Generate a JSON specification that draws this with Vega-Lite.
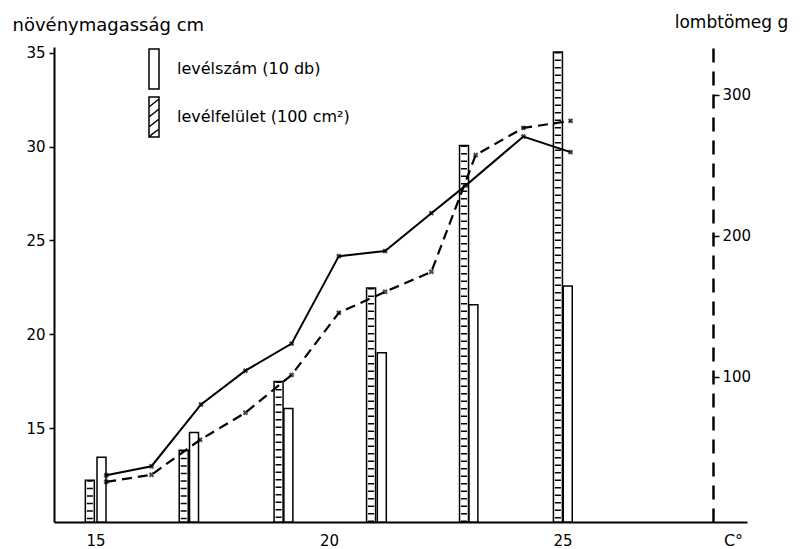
{
  "$schema": "https://vega.github.io/schema/vega-lite/v6.json",
  "width": 693,
  "height": 475,
  "autosize": {"type": "none"},
  "padding": {"left": 54, "top": 47, "right": 55, "bottom": 27},
  "background": "white",
  "config": {
    "view": {"stroke": null},
    "font": "DejaVu Sans",
    "axis": {
      "grid": false,
      "domainColor": "black",
      "tickColor": "black",
      "labelColor": "black",
      "titleColor": "black",
      "labelFont": "DejaVu Sans",
      "titleFont": "DejaVu Sans",
      "labelFontSize": 15,
      "titleFontSize": 15,
      "titleFontWeight": "normal"
    },
    "legend": {
      "orient": "none",
      "title": null,
      "padding": 0,
      "symbolSize": 1600,
      "symbolFillColor": "white",
      "symbolStrokeColor": "black",
      "symbolStrokeWidth": 1.5,
      "labelFontSize": 16,
      "labelFont": "DejaVu Sans",
      "labelColor": "black",
      "labelLimit": 400,
      "labelOffset": 2
    }
  },
  "datasets": {
    "bars": [
      {"t": 14.88, "v": 12.23, "s": "levélfelület (100 cm²)"},
      {"t": 16.89, "v": 13.82, "s": "levélfelület (100 cm²)"},
      {"t": 18.92, "v": 17.48, "s": "levélfelület (100 cm²)"},
      {"t": 20.90, "v": 22.47, "s": "levélfelület (100 cm²)"},
      {"t": 22.89, "v": 30.05, "s": "levélfelület (100 cm²)"},
      {"t": 24.90, "v": 35.04, "s": "levélfelület (100 cm²)"},
      {"t": 15.13, "v": 13.45, "s": "levélszám (10 db)"},
      {"t": 17.11, "v": 14.77, "s": "levélszám (10 db)"},
      {"t": 19.13, "v": 16.05, "s": "levélszám (10 db)"},
      {"t": 21.13, "v": 19.02, "s": "levélszám (10 db)"},
      {"t": 23.09, "v": 21.57, "s": "levélszám (10 db)"},
      {"t": 25.11, "v": 22.57, "s": "levélszám (10 db)"}
    ],
    "height": [
      {"t": 15.23, "v": 12.49},
      {"t": 16.20, "v": 12.97},
      {"t": 17.26, "v": 16.26},
      {"t": 18.21, "v": 18.06},
      {"t": 19.20, "v": 19.50},
      {"t": 20.21, "v": 24.16},
      {"t": 21.20, "v": 24.43},
      {"t": 22.19, "v": 26.45},
      {"t": 22.93, "v": 27.93},
      {"t": 24.16, "v": 30.53},
      {"t": 25.17, "v": 29.70}
    ],
    "mass": [
      {"t": 15.23, "g": 25.5},
      {"t": 16.20, "g": 30.5},
      {"t": 17.24, "g": 55.3},
      {"t": 18.21, "g": 74.5},
      {"t": 19.20, "g": 101.4},
      {"t": 20.21, "g": 145.4},
      {"t": 21.20, "g": 160.3},
      {"t": 22.19, "g": 174.5},
      {"t": 23.14, "g": 257.4},
      {"t": 24.16, "g": 276.6},
      {"t": 25.17, "g": 281.6}
    ]
  },
  "layer": [
    {
      "encoding": {
        "x": {
          "field": "t",
          "type": "quantitative",
          "scale": {"domain": [14.22, 28.84], "nice": false, "zero": false},
          "axis": {
            "values": [15, 20, 25],
            "tickSize": 0,
            "domainWidth": 2,
            "labelPadding": 11,
            "title": "C°",
            "titleFontSize": 16,
            "titleAlign": "center",
            "titleBaseline": "middle",
            "titleX": 679,
            "titleY": 18
          }
        },
        "y": {
          "field": "v",
          "type": "quantitative",
          "scale": {"domain": [10, 35.3], "nice": false, "zero": false},
          "axis": {
            "values": [15, 20, 25, 30, 35],
            "tickSize": 5,
            "tickWidth": 1.5,
            "domainWidth": 2,
            "labelPadding": 4,
            "title": "növénymagasság cm",
            "titleAngle": 0,
            "titleAlign": "left",
            "titleBaseline": "middle",
            "titleFontSize": 18,
            "titleX": -42,
            "titleY": -22
          }
        }
      },
      "layer": [
        {
          "data": {"name": "bars"},
          "transform": [{"filter": "datum.s === 'levélszám (10 db)'"}],
          "mark": {"type": "bar", "width": 9, "stroke": "black", "strokeWidth": 1.5},
          "encoding": {
            "y2": {"datum": 10},
            "fill": {
              "field": "s",
              "type": "nominal",
              "scale": {"domain": ["levélszám (10 db)"], "range": ["white"]},
              "legend": {
                "legendX": 79,
                "legendY": 1,
                "symbolType": "M-0.25,-1L0.25,-1L0.25,1L-0.25,1Z"
              }
            }
          }
        },
        {
          "data": {"name": "bars"},
          "transform": [{"filter": "datum.s === 'levélfelület (100 cm²)'"}],
          "mark": {"type": "bar", "width": 9, "fill": "white", "strokeWidth": 1.5},
          "encoding": {
            "y2": {"datum": 10},
            "stroke": {
              "field": "s",
              "type": "nominal",
              "scale": {"domain": ["levélfelület (100 cm²)"], "range": ["black"]},
              "legend": {
                "legendX": 79,
                "legendY": 49,
                "symbolType": "M-0.25,-1L0.25,-1L0.25,1L-0.25,1Z M-0.25,-0.5L0.25,-0.9 M-0.25,0L0.25,-0.4 M-0.25,0.5L0.25,0.1 M-0.25,0.98L0.25,0.6"
              }
            }
          }
        },
        {
          "data": {"name": "bars"},
          "transform": [{"filter": "datum.s === 'levélfelület (100 cm²)'"}],
          "mark": {"type": "rule", "strokeWidth": 6, "strokeDash": [1.5, 6], "color": "black"},
          "encoding": {"y2": {"datum": 10}}
        },
        {
          "data": {"name": "height"},
          "mark": {"type": "line", "color": "black", "strokeWidth": 2}
        },
        {
          "data": {"name": "height"},
          "mark": {"type": "point", "shape": "cross", "angle": 45, "size": 30, "filled": true, "color": "black"}
        }
      ]
    },
    {
      "data": {"name": "mass"},
      "encoding": {
        "x": {"field": "t", "type": "quantitative"},
        "y": {
          "field": "g",
          "type": "quantitative",
          "scale": {"domain": [-3, 334], "nice": false, "zero": false},
          "axis": {
            "orient": "right",
            "offset": -34,
            "values": [100, 200, 300],
            "domainDash": [14, 9],
            "domainWidth": 2.5,
            "tickSize": 6,
            "tickWidth": 1.5,
            "labelPadding": 3,
            "title": "lombtömeg g",
            "titleFontSize": 17,
            "titleAngle": 0,
            "titleAlign": "center",
            "titleBaseline": "middle",
            "titleX": 18,
            "titleY": -25
          }
        }
      },
      "layer": [
        {"mark": {"type": "line", "strokeDash": [10, 6], "strokeWidth": 2.2, "color": "black"}},
        {"mark": {"type": "point", "shape": "cross", "angle": 45, "size": 30, "filled": true, "color": "black"}}
      ]
    }
  ],
  "resolve": {"scale": {"y": "independent"}}
}
